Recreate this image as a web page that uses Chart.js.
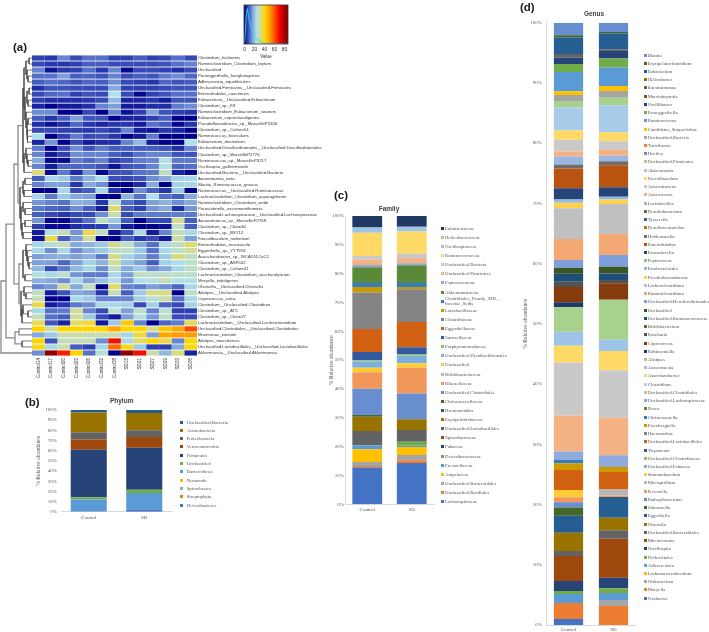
<!DOCTYPE html>
<html>
<head>
<meta charset="utf-8">
<title>Microbiota composition</title>
<script src="https://cdn.jsdelivr.net/npm/chart.js@4"></script>
<style>
  html, body { margin: 0; padding: 0; background: #fff; }
  #page { position: relative; width: 709px; height: 632px; overflow: hidden; filter: blur(0.3px); }
  #page canvas { position: absolute; }
  .letter { position: absolute; font: bold 11.5px "Liberation Sans", sans-serif; color: #1a1a1a; line-height: 12px; }
  .panelTitle { position: absolute; font: bold 6.5px "Liberation Sans", sans-serif; color: #404040; line-height: 8px; transform: translateX(-50%); white-space: nowrap; }
  .legendRow { position: absolute; font: 4.8px "Liberation Serif", serif; color: #555; line-height: 5px; white-space: pre; }
  .legendRow i { position: absolute; width: 3px; height: 3px; top: 1px; }
</style>
</head>
<body>
<div id="page"></div>
<script>
// heatmap (a)
const heatSamples = ["Control14", "Control17", "Control20", "Control23", "Control26", "Control32", "Control38", "SD15", "SD21", "SD27", "SD29", "SD33", "SD35"];
const heatTaxa = [
  "Clostridium_fusiformis", "Ruminiclostridium_Clostridium_leptum", "Unclassified", "Paraeggerthella_hongkongensis",
  "Adlercreutzia_equolifaciens", "Unclassified.Firmicutes__Unclassified.Firmicutes", "Enterorhabdus_caecimuris",
  "Eubacterium__Unclassified.Eubacterium", "Clostridium_sp._K9", "Ruminiclostridium_Eubacterium_siraeum",
  "Eubacterium_coprostanoligenes", "Pseudoflavonifractor_sp._MarseilleP3106", "Clostridium_sp._Culture54",
  "Ruminococcus_bicirculans", "Eubacterium_desmolans", "Unclassified.Desulfovibrionales__Unclassified.Desulfovibrionales",
  "Clostridium_sp._MarseilleP2776", "Ruminococcus_sp._MarseilleP3217", "Oscillospira_guilliermondii",
  "Unclassified.Bacteria__Unclassified.Bacteria", "Anaerotaenia_torta", "Blautia_Ruminococcus_gnavus",
  "Ruminococcus__Unclassified.Ruminococcus", "Lachnoclostridium_Clostridium_asparagiforme", "Ruminiclostridium_Clostridium_viride",
  "Parasutterella_excrementihominis", "Unclassified.Lachnospiraceae__Unclassified.Lachnospiraceae", "Anaerotruncus_sp._MarseilleP2769",
  "Clostridium_sp._Clone40", "Clostridium_sp._BSY12", "Faecalibaculum_rodentium", "Enterorhabdus_mucosicola", "Eggerthella_sp._YY7918",
  "Asaccharobacter_sp._WCA131CoC2", "Clostridium_sp._ASF502", "Clostridium_sp._Culture41", "Lachnoclostridium_Clostridium_saccharolyticum",
  "Moryella_indoligenes", "Olsenella__Unclassified.Olsenella", "Alistipes__Unclassified.Alistipes", "Coprococcus_catus",
  "Clostridium__Unclassified.Clostridium", "Clostridium_sp._AT5", "Clostridium_sp._Clone27", "Lachnoclostridium__Unclassified.Lachnoclostridium",
  "Unclassified.Clostridiales__Unclassified.Clostridiales", "Murimonas_intestini", "Alistipes_massiliensis",
  "Unclassified.Lactobacillales__Unclassified.Lactobacillales", "Akkermansia__Unclassified.Akkermansia"
];
const heatValues = [
  [7,6,14,8,12,12,7,7,10,7,8,12,8],
  [8,6,6,7,10,10,8,8,8,8,9,12,14],
  [14,2,6,7,12,6,14,1,8,8,7,5,8],
  [12,12,17,10,11,9,14,8,10,9,13,15,11],
  [10,12,11,9,11,10,15,8,7,6,11,9,10],
  [5,9,9,8,8,8,18,7,7,7,8,9,9],
  [8,11,12,7,9,8,25,8,1,7,9,12,12],
  [7,5,5,5,6,8,20,4,4,6,3,9,9],
  [4,0,3,3,5,14,17,3,3,5,5,13,15],
  [15,15,0,0,8,0,14,2,7,17,9,7,6],
  [10,6,10,17,9,9,0,4,4,7,10,0,0],
  [5,2,5,11,6,4,6,6,3,12,10,1,6],
  [8,8,7,7,6,8,6,14,3,2,6,4,0],
  [25,0,7,13,8,9,6,0,3,13,0,0,0],
  [4,16,0,8,3,5,5,14,20,3,0,0,25],
  [13,0,8,15,9,13,10,10,10,10,9,5,14],
  [14,3,7,15,14,14,10,8,12,14,14,9,9],
  [18,1,1,13,11,14,7,9,13,14,26,13,13],
  [14,3,11,11,11,9,2,9,10,14,26,11,12],
  [34,1,13,5,16,1,9,9,12,13,29,4,1],
  [10,24,22,13,19,25,9,8,9,15,18,23,24],
  [14,17,17,6,18,15,0,0,5,18,0,23,24],
  [0,0,24,8,10,24,5,1,15,10,6,22,0],
  [24,13,22,18,17,0,0,19,12,25,12,10,18],
  [16,14,12,19,18,6,27,12,8,17,19,15,18],
  [13,11,10,15,10,3,35,10,7,16,18,5,16],
  [10,8,6,8,8,15,31,8,13,13,13,13,13],
  [16,1,1,7,12,28,22,10,0,8,8,33,10],
  [7,1,1,5,6,7,16,3,0,0,2,28,10],
  [3,25,30,16,37,29,2,9,24,3,14,30,24],
  [2,37,10,17,32,0,0,10,6,8,3,31,17],
  [24,27,30,18,19,22,33,28,18,12,24,29,35],
  [24,15,24,15,19,22,28,28,22,12,24,28,32],
  [17,18,19,17,19,13,33,23,20,13,22,34,29],
  [17,17,11,17,23,19,32,21,17,10,23,25,28],
  [20,8,13,20,24,15,28,18,22,15,18,24,28],
  [26,24,28,16,13,13,24,17,29,28,28,28,28],
  [19,18,15,24,17,21,26,16,25,26,30,25,26],
  [14,16,32,18,30,0,35,14,13,17,15,11,24],
  [29,3,9,18,17,6,30,10,22,33,33,0,28],
  [30,0,0,24,22,14,14,14,23,27,31,12,24],
  [37,3,6,13,15,24,24,23,8,23,11,8,23],
  [24,12,13,32,14,8,28,17,28,14,27,7,7],
  [30,12,10,32,22,8,3,17,26,16,29,8,8],
  [36,9,4,35,38,3,22,44,14,0,11,13,36],
  [42,32,42,42,42,42,50,42,42,33,44,50,62],
  [18,22,31,31,31,31,31,24,38,17,50,52,52],
  [42,9,29,30,30,15,70,24,35,42,37,14,42],
  [40,24,31,10,7,24,58,40,22,7,7,18,42],
  [15,85,68,42,12,27,0,85,70,31,20,34,4]
];
// [height, upper branch, lower branch]; a plain number is a row of heatTaxa, counted from 1
const heatTree = [31,
  [26,
    [18,
      [14,
        [9,
          [8,
            [6, [3, 1, 2], [5, 3, [4, 4, 5]]],
            [7, [5, [3, 6, 7], [4, 8, 9]], [6, 10, [5, [4, 11, 12], [5, 13, [4.5, 14, 15]]]]]
          ],
          [8, [6, 16, [5, 17, [4, 18, 19]]], 20]
        ],
        [12,
          [9, [7, 21, 22], [8, 23, 24]],
          [11, [9, 25, [7, 26, 27]], [10, [7, 28, 29], [9, 30, 31]]]
        ]
      ],
      [13,
        [9, [6, 32, [5, 33, [4, 34, [3, 35, 36]]]], [7, 37, 38]],
        [11, [8, 39, [6, 40, 41]], [10, [9, 42, [4, 43, 44]], 45]]
      ]
    ],
    [17, [13, 46, 47], [10, 48, 49]]
  ],
  50
];
const colorStops = [0, 6, 12, 18, 25, 31, 36, 42, 52, 62, 72, 86];
const colorRamp = ["#00008b", "#2636ab", "#5570c8", "#86aadb", "#aee0ea", "#c9dcac", "#e6da58", "#ffd500", "#ff9a00", "#ff4a00", "#ee0000", "#8b0000"];
const keyBins = [0,2,4,6,8,10,12,14,16,18,20,22,24,26,28,30,32,34,36,38,40,42,44,46,48,50,52,54,56,58,60,62,64,66,68,70,72,74,76,78,80,82,84,86];
const keyCounts = [5,40,85,95,75,60,50,40,33,25,20,15,13,12,10,8,7,6,5,4,3,3,2,2,2,1,1,1,1,1,1,1,1,1,1,1,1,0,0,0,0,0,0,0];
const keyTicks = [0, 20, 40, 60, 80];

// stacked bars, all series listed from the bottom of the stack up
const groups = ["Control", "SD"];
const percentTicks = [0, 10, 20, 30, 40, 50, 60, 70, 80, 90, 100];
const stackColors = [
  "#4472c4", "#ed7d31", "#a5a5a5", "#ffc000", "#5b9bd5", "#70ad47", "#264478", "#9e480e", "#636363", "#997300", "#255e91", "#43682b",
  "#698ed0", "#f1975a", "#b7b7b7", "#ffcd33", "#7cafdd", "#8cc168", "#335aa1", "#d26012", "#848484", "#cc9a00", "#327dc2", "#5a8a39",
  "#8faadc", "#f4b183", "#c9c9c9", "#ffd966", "#9dc3e6", "#a9d18e", "#203864", "#843c0c", "#525252", "#7f6000", "#1f4e79", "#385723",
  "#7f9fdc", "#f4a873", "#c0c0c0", "#ffd24d", "#8ebce5", "#93cb72", "#264478", "#b85410", "#6e6e6e", "#a98600", "#2a6aa5", "#4a7530",
  "#9ab8e2", "#f4b183", "#c9c9c9", "#ffd966", "#a8cbea", "#a9d18e", "#698ed0", "#ed7d31", "#a5a5a5", "#ffc000", "#5b9bd5", "#70ad47",
  "#264478", "#9e480e", "#636363", "#997300", "#255e91", "#43682b", "#698ed0"
];

const phylumNames = ["Deferribacteres", "Streptophyta", "Spirochaetes", "Nematoda", "Bacteroidetes", "Unclassified", "Firmicutes", "Verrucomicrobia", "Proteobacteria", "Actinobacteria", "Unclassified.Bacteria"];
// top edge of each band
const phylumControlTops = [0.3, 0.3, 0.3, 0.3, 12, 14.3, 61, 71, 78, 97.5, 100];
const phylumSdTops = [2.2, 2.2, 2.2, 2.2, 18.5, 21.5, 63, 73.5, 80, 97, 100];

const familyNames = [
  "Lachnospiraceae", "Unclassified.Bacillales", "Unclassified.Bacteroidales", "Ampelaceae", "Prevotellaceae", "Deferribacteraceae", "Fabaceae",
  "Spirochaetaceae", "Unclassified.Lactobacillales", "Erysipelotrichaceae", "Haemonchidae", "Christensenellaceae", "Unclassified.Clostridiales",
  "Rikenellaceae", "Bifidobacteriaceae", "Unclassified", "Unclassified.Desulfovibrionales", "Porphyromonadaceae", "Sutterellaceae", "Eggerthellaceae",
  "Clostridiaceae", "Lactobacillaceae", "Clostridiales_Family_XIII._\nIncertae_Sedis", "Akkermansiaceae", "Peptococcaceae", "Unclassified.Firmicutes",
  "Unclassified.Bacteria", "Ruminococcaceae", "Oscillospiraceae", "Helicobacteraceae", "Eubacteriaceae"
];
const familyControlTops = [12.8, 13.3, 14.7, 19.1, 20.5, 20.5, 20.5, 20.5, 25.4, 30.4, 30.4, 31, 40.1, 45.8, 45.8, 47.4, 49.5, 50, 52.8, 60.8, 73.5, 75.4, 76.8, 82.2, 83, 84.9, 86.1, 94.2, 96, 96, 100];
const familySdTops = [14.3, 15.3, 17.1, 19.9, 20.3, 21.7, 21.7, 21.7, 25.8, 29.5, 29.5, 29.5, 38.4, 47.4, 47.4, 48.9, 51.6, 52.1, 54.5, 63.2, 74.6, 75.4, 76.8, 82.9, 83.6, 85.4, 86.9, 94.6, 96.3, 96.3, 100];

const genusNames = [
  "Oxobacter", "Moryella", "Oribacterium", "Lachnoanaerobaculum", "Adlercreutzia", "Defluviitalea", "Oscillospira", "Mucinivorans",
  "Unclassified.Bacteroidales", "Olsenella", "Eggerthella", "Johnsonella", "Rathayibacterium", "Prevotella", "Mucispirillum", "Stomatobaculum",
  "Unclassified.Fabaceae", "Unclassified.Clostridiaceae", "Treponema", "Unclassified.Lactobacillales", "Haemonchus", "Eisenbergiella", "Christensenella",
  "Dorea", "Unclassified.Lachnospiraceae", "Unclassified.Clostridiales", "Clostridium", "Asaccharobacter", "Anaerotaenia", "Alistipes", "Robinsoniella",
  "Coprococcus", "Roseburia", "Bifidobacterium", "Unclassified.Ruminococcaceae", "Unclassified", "Unclassified.Desulfovibrionales", "Ruminiclostridium",
  "Lachnoclostridium", "Pseudoflavonifractor", "Parabacteroides", "Peptococcus", "Parasutterella", "Enterorhabdus", "Holdemanella", "Desulfovermiculus",
  "Tyzzerella", "Desulfobacterium", "Lactobacillus", "Anaerovorax", "Anaerotruncus", "Faecalibaculum", "Akkermansia", "Unclassified.Firmicutes",
  "Hoeflea", "Turicibacter", "Unclassified.Bacteria", "Candidatus_Stoquefichus", "Ruminococcus", "Paraeggerthella", "Oscillibacter", "Marvinbryantia",
  "Intestinimonas", "Helicobacter", "Eubacterium", "Erysipelatoclostridium", "Blautia"
];
const genusControlTops = [
  1, 3.65, 3.65, 3.65, 5.15, 5.65, 7.3, 11.45, 12.3, 15.3, 18.15, 19.5, 20.4, 21.2, 21.2, 22.4, 22.4, 22.4, 22.4, 25.75, 25.75, 26.85, 27.4,
  27.4, 28.8, 34.8, 43.6, 46.35, 48.7, 52.75, 53.6, 56.1, 57, 57, 58.3, 59.3, 60.6, 64.1, 69.2, 70.1, 70.65, 70.65, 72.5, 75.8, 76.45, 76.45,
  76.45, 76.45, 77.8, 78.6, 80.55, 82.1, 85.9, 87, 87, 87, 88, 88.6, 91.8, 93.15, 94.2, 94.2, 94.8, 94.8, 97.55, 97.9, 100
];
const genusSdTops = [
  0, 3.15, 4.15, 4.15, 5.3, 6.1, 7.85, 14.3, 15.75, 17.8, 21.25, 21.25, 21.25, 21.5, 22.5, 22.5, 22.5, 22.5, 22.5, 25.4, 25.4, 26.25, 26.25,
  26.25, 28.2, 34.4, 42.3, 45.5, 47.35, 54, 54, 56.75, 57.3, 57.3, 58.35, 59.5, 61.45, 64.9, 69.9, 70.65, 71.1, 71.1, 72.7, 76.35, 77, 77,
  77, 77, 77.9, 78.9, 80.3, 81.8, 86.3, 87.55, 87.55, 87.55, 88.65, 89.5, 92.55, 94.05, 95.3, 95.3, 95.6, 95.6, 98.2, 98.45, 100
];

const page = document.getElementById("page");
const sansFont = "'Liberation Sans', sans-serif";
const serifFont = "'Liberation Serif', serif";
const noGrid = { display: false, drawTicks: false };

function addCanvas(left, top, width, height) {
  const canvas = document.createElement("canvas");
  canvas.width = width;
  canvas.height = height;
  canvas.style.left = left + "px";
  canvas.style.top = top + "px";
  page.appendChild(canvas);
  return canvas.getContext("2d");
}

function addLabel(className, text, left, top) {
  const el = document.createElement("div");
  el.className = className;
  el.textContent = text;
  el.style.left = left + "px";
  el.style.top = top + "px";
  page.appendChild(el);
}

// forces an axis box to a set size, so the plot lands where the reference has it
function pinAxis(size) {
  return scale => {
    if (scale.isHorizontal()) scale.height = size;
    else scale.width = size;
    scale.paddingLeft = scale.paddingRight = scale.paddingTop = scale.paddingBottom = 0;
  };
}

function heatColor(value) {
  let i = 0;
  while (i < colorStops.length - 2 && value > colorStops[i + 1]) i++;
  const t = Math.min(1, (value - colorStops[i]) / (colorStops[i + 1] - colorStops[i]));
  const rgb = hex => [1, 3, 5].map(p => parseInt(hex.substr(p, 2), 16));
  const a = rgb(colorRamp[i]);
  const b = rgb(colorRamp[i + 1]);
  return `rgb(${a.map((c, k) => Math.round(c + (b[k] - c) * t)).join(",")})`;
}

function drawHeatmap() {
  new Chart(addCanvas(32, 55, 313, 327), {
    type: "bar",
    data: {
      labels: heatTaxa,
      datasets: heatSamples.map((sample, col) => ({
        label: sample,
        data: heatTaxa.map(() => 1),
        backgroundColor: heatValues.map(row => heatColor(row[col])),
        barPercentage: 0.86,
        categoryPercentage: 1
      }))
    },
    options: {
      indexAxis: "y",
      responsive: false,
      animation: false,
      layout: { padding: 0 },
      plugins: { legend: { display: false }, tooltip: { enabled: false } },
      scales: {
        x: {
          type: "linear", stacked: true, min: 0, max: heatSamples.length,
          grid: noGrid, border: { display: false },
          afterBuildTicks: scale => { scale.ticks = heatSamples.map((s, i) => ({ value: i + 0.5 })); },
          afterFit: pinAxis(26),
          ticks: {
            autoSkip: false, minRotation: 90, maxRotation: 90, padding: 2, color: "#333",
            font: { family: sansFont, size: 4.6 },
            callback: (value, i) => heatSamples[i]
          }
        },
        y: {
          stacked: true, position: "right",
          grid: noGrid, border: { display: false },
          afterFit: pinAxis(148),
          ticks: { autoSkip: false, padding: 1, color: "#333", font: { family: sansFont, size: 4.3 } }
        }
      }
    }
  });
}

function collectBranches(node, thick, thin) {
  if (typeof node === "number") return { h: 0, y: node - 0.5 };
  const [h, upper, lower] = node;
  const a = collectBranches(upper, thick, thin);
  const b = collectBranches(lower, thick, thin);
  const target = h > 12 ? thick : thin;
  target.push({ x: a.h, y: a.y }, { x: h, y: a.y }, { x: h, y: b.y }, { x: b.h, y: b.y }, { x: NaN, y: NaN });
  return { h, y: (a.y + b.y) / 2 };
}

function drawDendrogram() {
  const thick = [];
  const thin = [];
  collectBranches(heatTree, thick, thin);
  new Chart(addCanvas(0, 55, 32, 301), {
    type: "scatter",
    data: {
      datasets: [
        { data: thick, showLine: true, spanGaps: false, pointRadius: 0, borderColor: "#8a8a8a", borderWidth: 1.3 },
        { data: thin, showLine: true, spanGaps: false, pointRadius: 0, borderColor: "#444", borderWidth: 0.7 }
      ]
    },
    options: {
      responsive: false,
      animation: false,
      layout: { padding: 0 },
      plugins: { legend: { display: false }, tooltip: { enabled: false } },
      scales: {
        x: { display: false, reverse: true, min: 0, max: 32 },
        y: { display: false, reverse: true, min: 0, max: heatTaxa.length }
      }
    }
  });
}

function drawColorKey() {
  const boxOutline = {
    id: "boxOutline",
    afterDraw(chart) {
      const { ctx, chartArea: a } = chart;
      ctx.save();
      ctx.strokeStyle = "#333";
      ctx.lineWidth = 0.8;
      ctx.strokeRect(a.left, a.top, a.width, a.height);
      ctx.restore();
    }
  };
  new Chart(addCanvas(238, 3, 56, 56), {
    type: "bar",
    data: {
      datasets: [
        {
          type: "line", order: 0, yAxisID: "y2", borderColor: "#19e3e3", borderWidth: 0.9, pointRadius: 0,
          data: keyBins.map((x, i) => ({ x, y: keyCounts[i] }))
        },
        {
          type: "bar", order: 1, yAxisID: "y", barThickness: 1.4,
          backgroundColor: keyBins.map(heatColor),
          data: keyBins.map(x => ({ x, y: 1 }))
        }
      ]
    },
    options: {
      responsive: false,
      animation: false,
      layout: { padding: { left: 6, right: 6, top: 2 } },
      plugins: { legend: { display: false }, tooltip: { enabled: false } },
      scales: {
        x: {
          type: "linear", offset: false, min: -1, max: 87,
          grid: noGrid, border: { display: false },
          afterBuildTicks: scale => { scale.ticks = keyTicks.map(value => ({ value })); },
          afterFit: pinAxis(15),
          title: { display: true, text: "Value", color: "#333", font: { family: sansFont, size: 4.6 }, padding: 0 },
          ticks: { padding: 3, maxRotation: 0, color: "#333", font: { family: sansFont, size: 4.8 } }
        },
        y: { display: false, min: 0, max: 1 },
        y2: { display: false, min: 0, max: 105 }
      }
    },
    plugins: [boxOutline]
  });
}

function drawStack(box, names, controlTops, sdTops, barRatio) {
  const bands = tops => tops.map((t, i) => t - (i ? tops[i - 1] : 0));
  const controlBands = bands(controlTops);
  const sdBands = bands(sdTops);
  new Chart(addCanvas(box.left, box.top, box.width, box.height), {
    type: "bar",
    data: {
      labels: groups,
      datasets: names.map((name, i) => ({
        label: name,
        data: [controlBands[i], sdBands[i]],
        backgroundColor: stackColors[i],
        barPercentage: barRatio,
        categoryPercentage: 1
      }))
    },
    options: {
      responsive: false,
      animation: false,
      layout: { padding: { top: box.padTop, right: box.padRight } },
      plugins: { legend: { display: false }, tooltip: { enabled: false } },
      scales: {
        x: {
          stacked: true,
          grid: noGrid, border: { color: "#d9d9d9" },
          afterFit: pinAxis(box.xAxis),
          ticks: { padding: box.xPad, color: "#595959", font: { family: serifFont, size: 5 } }
        },
        y: {
          stacked: true, min: 0, max: 100,
          grid: noGrid, border: { color: box.yLine },
          afterBuildTicks: scale => { scale.ticks = percentTicks.map(value => ({ value })); },
          afterFit: pinAxis(box.yAxis),
          title: { display: true, text: "% Relative abundance", color: "#595959", font: { family: serifFont, size: 5.6 }, padding: 0 },
          ticks: { padding: box.yPad, color: "#595959", font: { family: serifFont, size: 5 }, callback: value => value + "%" }
        }
      }
    }
  });
}

function addLegend(names, markerLeft, textLeft, firstRow, rowGap) {
  const count = names.length;
  names.forEach((name, i) => {
    const row = document.createElement("div");
    row.className = "legendRow";
    const lines = name.split("\n").length;
    row.style.left = textLeft + "px";
    row.style.top = firstRow + (count - 1 - i) * rowGap - 2.5 * lines + "px";
    const mark = document.createElement("i");
    mark.style.left = markerLeft - textLeft - 1.5 + "px";
    mark.style.top = (lines === 2 ? 3.5 : 1) + "px";
    mark.style.background = stackColors[i];
    row.appendChild(mark);
    row.appendChild(document.createTextNode(name));
    page.appendChild(row);
  });
}

drawDendrogram();
drawHeatmap();
drawColorKey();

drawStack({ left: 35, top: 404, width: 139, height: 122, padTop: 6, padRight: 2, yAxis: 26, xAxis: 14.3, xPad: 3, yPad: 4, yLine: "rgba(0,0,0,0)" },
  phylumNames, phylumControlTops, phylumSdTops, 0.65);
drawStack({ left: 328, top: 210, width: 108, height: 308, padTop: 6, padRight: 2, yAxis: 17, xAxis: 13.7, xPad: 2, yPad: 1, yLine: "#d9d9d9" },
  familyNames, familyControlTops, familySdTops, 0.67);
drawStack({ left: 522, top: 16, width: 116, height: 616, padTop: 6.7, padRight: 2, yAxis: 24, xAxis: 7, xPad: 2, yPad: 4, yLine: "#d9d9d9" },
  genusNames, genusControlTops, genusSdTops, 0.65);

addLegend(phylumNames, 181.7, 186.7, 422, 8.3);
addLegend(familyNames, 442.3, 445, 228.3, 9.11);
addLegend(genusNames, 645, 647.7, 55, 8.23);

addLabel("panelTitle", "Phylum", 121.7, 397);
addLabel("panelTitle", "Family", 389, 205);
addLabel("panelTitle", "Genus", 594, 10);
addLabel("letter", "(a)", 13, 41);
addLabel("letter", "(b)", 25, 396);
addLabel("letter", "(c)", 334, 189);
addLabel("letter", "(d)", 520, 1);
</script>
</body>
</html>
